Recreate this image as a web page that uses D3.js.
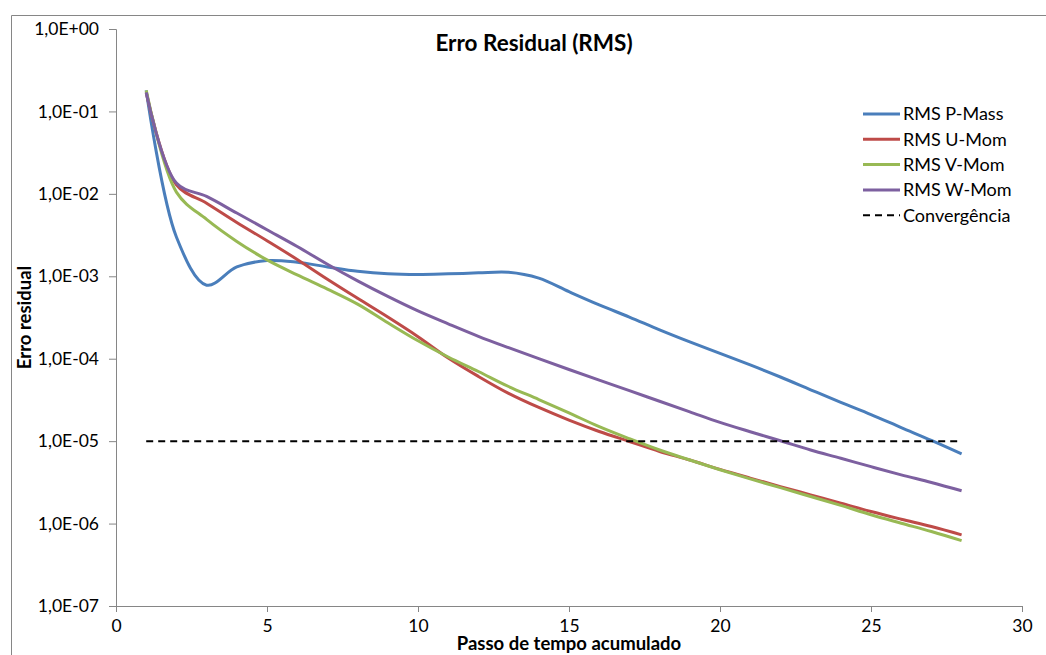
<!DOCTYPE html>
<html>
<head>
<meta charset="utf-8">
<script src="https://cdn.jsdelivr.net/npm/d3@7"></script>
<style>
  body { margin: 0; background: #fff; }
  text { font-family: Lato, "Open Sans", sans-serif; }
</style>
</head>
<body>
<div id="chart"></div>
<script>
// Data

const steps = d3.range(1, 29);

const pMass = [0.18, 3.0e-3, 7.8e-4, 1.3e-3, 1.55e-3, 1.48e-3, 1.3e-3, 1.15e-3, 1.07e-3, 1.05e-3,
  1.07e-3, 1.1e-3, 1.12e-3, 9.5e-4, 6.5e-4, 4.5e-4, 3.2e-4, 2.24e-4, 1.6e-4, 1.16e-4,
  8.4e-5, 6.0e-5, 4.2e-5, 2.95e-5, 2.1e-5, 1.46e-5, 1.02e-5, 7.0e-6];

const uMom = [0.17, 1.29e-2, 7.7e-3, 4.5e-3, 2.7e-3, 1.6e-3, 9.2e-4, 5.4e-4, 3.2e-4, 1.85e-4,
  1.02e-4, 6.1e-5, 3.8e-5, 2.56e-5, 1.8e-5, 1.31e-5, 9.9e-6, 7.5e-6, 5.9e-6, 4.54e-6,
  3.56e-6, 2.81e-6, 2.23e-6, 1.77e-6, 1.4e-6, 1.13e-6, 9.2e-7, 7.3e-7];

const vMom = [0.18, 1.05e-2, 4.9e-3, 2.65e-3, 1.58e-3, 1.04e-3, 7.0e-4, 4.6e-4, 2.73e-4, 1.65e-4,
  1.05e-4, 7.0e-5, 4.6e-5, 3.2e-5, 2.2e-5, 1.5e-5, 1.07e-5, 7.8e-6, 5.9e-6, 4.5e-6,
  3.48e-6, 2.73e-6, 2.13e-6, 1.66e-6, 1.28e-6, 1.01e-6, 8.0e-7, 6.2e-7];

const wMom = [0.17, 1.35e-2, 9.3e-3, 5.85e-3, 3.67e-3, 2.3e-3, 1.4e-3, 8.8e-4, 5.7e-4, 3.8e-4,
  2.65e-4, 1.87e-4, 1.36e-4, 1.0e-4, 7.4e-5, 5.5e-5, 4.1e-5, 3.05e-5, 2.27e-5, 1.69e-5,
  1.3e-5, 1.01e-5, 7.8e-6, 6.2e-6, 4.9e-6, 3.9e-6, 3.15e-6, 2.5e-6];

const convergence = 1e-5;

const seriesNames = ["RMS P-Mass", "RMS U-Mom", "RMS V-Mom", "RMS W-Mom", "Convergência"];
const seriesColors = ["#4a7ebb", "#be4b48", "#98b954", "#7d60a0", "#000000"];

const xTicks = [0, 5, 10, 15, 20, 25, 30];
const yTicks = [1, 1e-1, 1e-2, 1e-3, 1e-4, 1e-5, 1e-6, 1e-7];
const yTickLabels = ["1,0E+00", "1,0E-01", "1,0E-02", "1,0E-03", "1,0E-04", "1,0E-05", "1,0E-06", "1,0E-07"];

// Chart

const width = 1046;
const height = 655;
const margin = { top: 29, bottom: 49, left: 116, right: 24 };

const svg = d3
  .select("#chart")
  .append("svg")
  .attr("width", width)
  .attr("height", height);

// outer chart frame (only top and left edges visible)
svg
  .append("path")
  .attr("d", `M11.5,${height} V15.5 H${width}`)
  .attr("fill", "none")
  .attr("stroke", "#868686")
  .attr("stroke-width", 1);

const xScale = d3
  .scaleLinear()
  .domain([0, 30])
  .range([margin.left, width - margin.right]);

const yScale = d3
  .scaleLog()
  .domain([1e-7, 1])
  .range([height - margin.bottom, margin.top]);

// Axis

const xAxis = svg
  .append("g")
  .attr("transform", `translate(0, ${height - margin.bottom})`)
  .call(d3.axisBottom(xScale).tickValues(xTicks).tickSize(6).tickPadding(8).tickFormat(d3.format("d")));

const yAxis = svg
  .append("g")
  .attr("transform", `translate(${margin.left}, 0)`)
  .call(
    d3
      .axisLeft(yScale)
      .tickValues(yTicks)
      .tickSize(7)
      .tickPadding(10)
      .tickFormat((d, i) => yTickLabels[i])
  );

[xAxis, yAxis].forEach((g) => {
  g.select(".domain").attr("stroke", "#868686");
  g.selectAll(".tick line").attr("stroke", "#868686");
  g.selectAll(".tick text")
    .attr("fill", "#000")
    .style("font-size", "17.5px")
    .style("font-family", "Lato, sans-serif");
});

// Lines

const line = d3
  .line()
  .x((d) => xScale(d.x))
  .y((d) => yScale(d.y))
  .curve(d3.curveCatmullRom.alpha(0.5));

const allSeries = [pMass, uMom, vMom, wMom];

allSeries.forEach((values, i) => {
  svg
    .append("path")
    .datum(steps.map((s, j) => ({ x: s, y: values[j] })))
    .attr("fill", "none")
    .attr("stroke", seriesColors[i])
    .attr("stroke-width", 3)
    .attr("stroke-linejoin", "round")
    .attr("d", line);
});

svg
  .append("path")
  .datum([{ x: steps[0], y: convergence }, { x: steps[steps.length - 1], y: convergence }])
  .attr("fill", "none")
  .attr("stroke", "#000")
  .attr("stroke-width", 2)
  .attr("stroke-dasharray", "7,5")
  .attr("d", d3.line().x((d) => xScale(d.x)).y((d) => yScale(d.y)));

// Titles

svg
  .append("text")
  .attr("x", 534)
  .attr("y", 51)
  .attr("text-anchor", "middle")
  .style("font-size", "22.5px")
  .style("font-weight", "bold")
  .text("Erro Residual (RMS)");

svg
  .append("text")
  .attr("x", (margin.left + width - margin.right) / 2)
  .attr("y", 650)
  .attr("text-anchor", "middle")
  .style("font-size", "18.5px")
  .style("font-weight", "bold")
  .text("Passo de tempo acumulado");

svg
  .append("text")
  .attr("transform", `translate(31, ${(height - margin.bottom + margin.top) / 2}) rotate(-90)`)
  .attr("text-anchor", "middle")
  .style("font-size", "18.5px")
  .style("font-weight", "bold")
  .text("Erro residual");

// Legend

const legend = svg
  .append("g")
  .selectAll("g")
  .data(seriesNames)
  .enter()
  .append("g")
  .attr("transform", (d, i) => `translate(863, ${114 + i * 25.3})`);

legend
  .append("line")
  .attr("x1", 0)
  .attr("x2", 37)
  .attr("stroke", (d, i) => seriesColors[i])
  .attr("stroke-width", (d, i) => (i === 4 ? 2 : 3))
  .attr("stroke-dasharray", (d, i) => (i === 4 ? "7,5" : null));

legend
  .append("text")
  .attr("x", 40)
  .attr("dy", "0.35em")
  .style("font-size", "18px")
  .text((d) => d);
</script>
</body>
</html>
